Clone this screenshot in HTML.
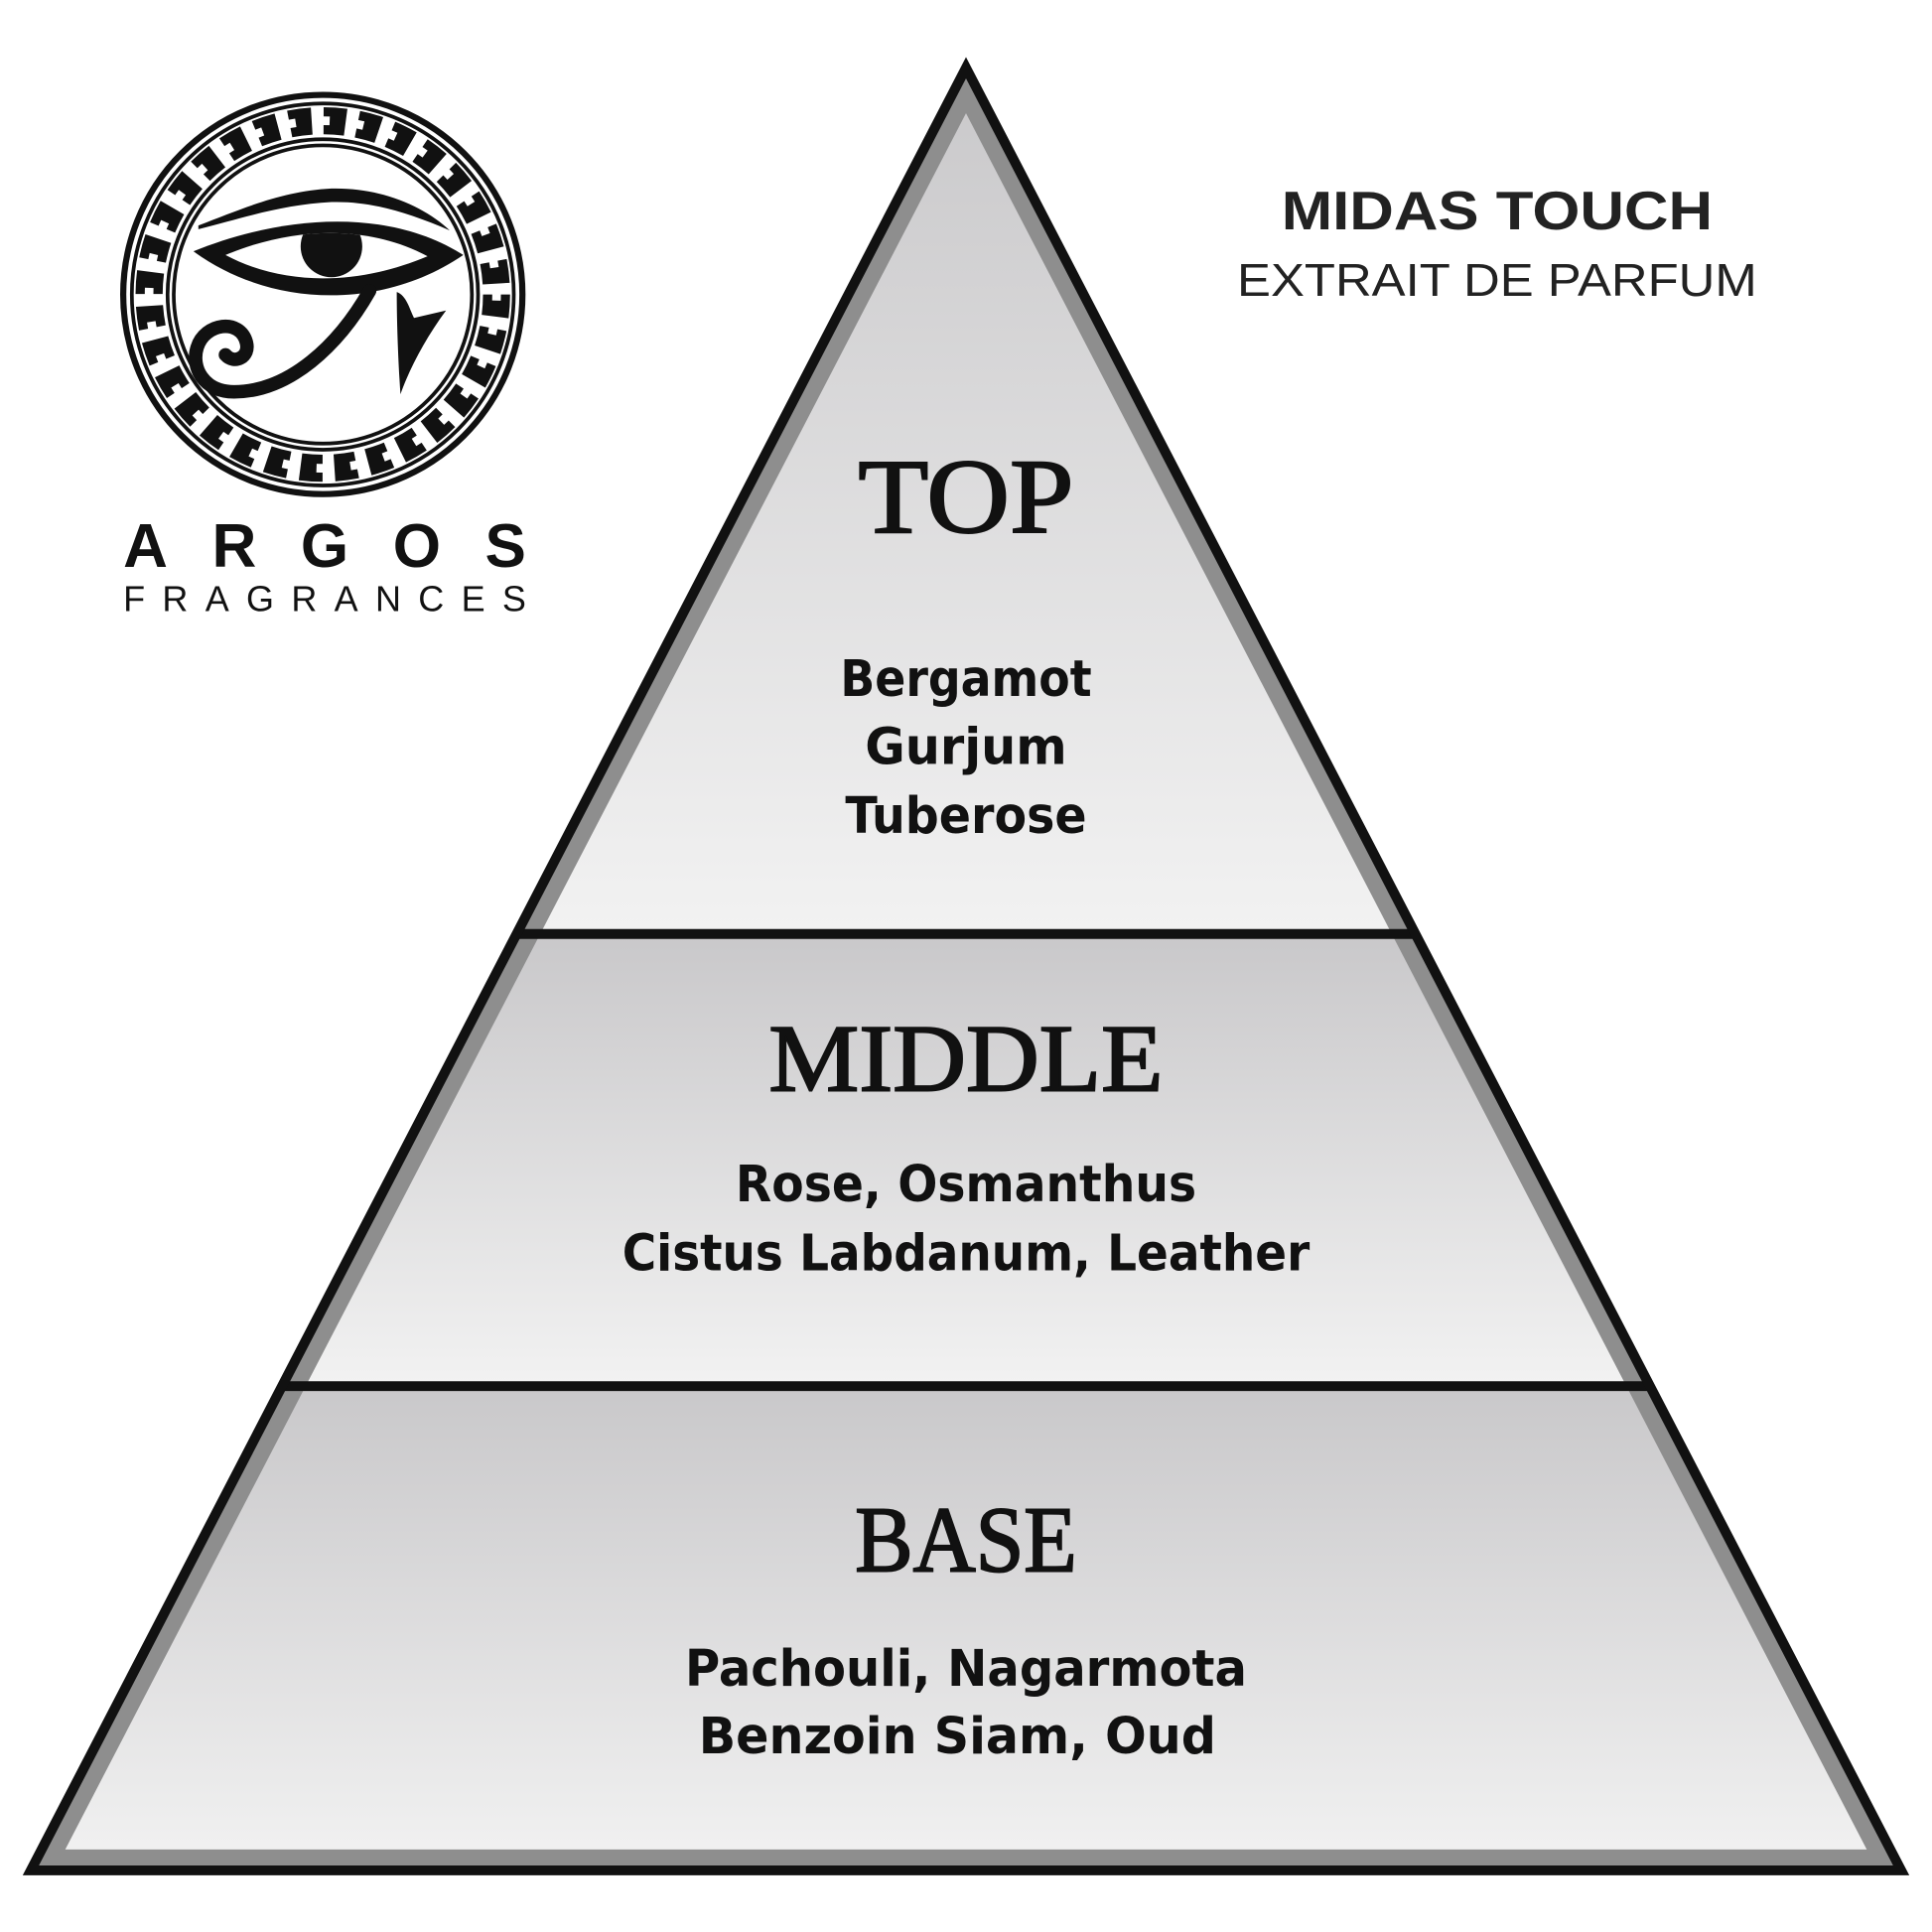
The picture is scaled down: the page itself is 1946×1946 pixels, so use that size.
<!DOCTYPE html>
<html><head><meta charset="utf-8"><style>
html,body{margin:0;padding:0;background:#fff;}
svg{display:block;}
</style></head><body>
<svg width="1946" height="1946" viewBox="0 0 1568 1568" xmlns="http://www.w3.org/2000/svg">
<defs>
<linearGradient id="g" x1="0" y1="0" x2="0" y2="1">
<stop offset="0" stop-color="#c9c8ca"/><stop offset="1" stop-color="#f2f2f2"/></linearGradient>
<clipPath id="tri"><polygon points="784,55 25,1518 1543,1518"/></clipPath>
<clipPath id="eyein"><path d="M183,207 C240,183 300,183 347,208 C290,232 230,232 183,207 Z"/></clipPath>
</defs>
<g clip-path="url(#tri)">
<rect x="0" y="55" width="1568" height="703" fill="url(#g)"/>
<rect x="0" y="758" width="1568" height="367" fill="url(#g)"/>
<rect x="0" y="1125" width="1568" height="393" fill="url(#g)"/>
<polygon points="784,55 25,1518 1543,1518" fill="none" stroke="#8e8e8e" stroke-width="34"/>
<line x1="0" y1="758" x2="1568" y2="758" stroke="#111" stroke-width="8"/>
<line x1="0" y1="1125" x2="1568" y2="1125" stroke="#111" stroke-width="8"/>
</g>
<polygon points="784,55 25,1518 1543,1518" fill="none" stroke="#111" stroke-width="8" stroke-linejoin="miter"/>

<g font-family="'Liberation Serif',serif" fill="#111" stroke="#111" stroke-width="1.6" text-anchor="middle">
<text x="784" y="432" font-size="86" textLength="175" lengthAdjust="spacingAndGlyphs">TOP</text>
<text x="784" y="885" font-size="78" textLength="320" lengthAdjust="spacingAndGlyphs">MIDDLE</text>
<text x="784" y="1275" font-size="76" textLength="180" lengthAdjust="spacingAndGlyphs">BASE</text>
</g>
<g font-family="'DejaVu Sans Condensed','Liberation Sans',sans-serif" fill="#111" text-anchor="middle" font-size="41" font-weight="bold">
<text x="784" y="565" textLength="204" lengthAdjust="spacingAndGlyphs">Bergamot</text>
<text x="784" y="620" textLength="164" lengthAdjust="spacingAndGlyphs">Gurjum</text>
<text x="784" y="676" textLength="196" lengthAdjust="spacingAndGlyphs">Tuberose</text>
<text x="784" y="975" textLength="374" lengthAdjust="spacingAndGlyphs">Rose, Osmanthus</text>
<text x="784" y="1031" textLength="558" lengthAdjust="spacingAndGlyphs">Cistus Labdanum, Leather</text>
<text x="784" y="1368" textLength="456" lengthAdjust="spacingAndGlyphs">Pachouli, Nagarmota</text>
<text x="777" y="1423" textLength="420" lengthAdjust="spacingAndGlyphs">Benzoin Siam, Oud</text>
</g>
<g font-family="'Liberation Sans',sans-serif" fill="#222" text-anchor="middle">
<text x="1215" y="186" font-size="44" font-weight="bold" textLength="350" lengthAdjust="spacingAndGlyphs">MIDAS TOUCH</text>
<text x="1215" y="240" font-size="37" textLength="422" lengthAdjust="spacingAndGlyphs">EXTRAIT DE PARFUM</text>
</g>

<!-- logo -->
<g fill="none" stroke="#111">
<circle cx="262" cy="239" r="162" stroke-width="5"/>
<circle cx="262" cy="239" r="155" stroke-width="3"/>
<circle cx="262" cy="239" r="141" stroke-width="22" stroke-dasharray="18 9.7"/>
<circle cx="262" cy="239" r="141" stroke="#fff" stroke-width="7" stroke-dasharray="9 18.7" stroke-dashoffset="4"/>
<circle cx="262" cy="239" r="126" stroke-width="3"/>
<circle cx="262" cy="239" r="121" stroke-width="3"/>
</g>
<g fill="#111">
<path d="M161,183 C200,168 230,155 269,153 C310,152 345,168 365,187 C330,172 300,163 269,164 C230,166 200,176 161,186 Z"/>
<path d="M157,204 C220,178 310,165 376,207 C310,252 220,250 157,204 Z"/>
<path d="M183,207 C240,183 300,183 347,208 C290,232 230,232 183,207 Z" fill="#fff"/>
<circle cx="269" cy="200" r="25" clip-path="url(#eyein)"/>
<path d="M300,236 C275,280 235,318 190,318 C165,318 155,298 160,282 C166,262 195,258 200,278 C203,290 190,296 183,288" fill="none" stroke="#111" stroke-width="11" stroke-linecap="round"/>
<path d="M322,237 C330,240 332,250 336,258 L362,252 C345,275 332,300 325,320 C323,290 322,260 322,237 Z"/>
</g>
<g font-family="'Liberation Sans',sans-serif" fill="#111">
<text x="100" y="460" font-size="50" font-weight="bold" textLength="327" lengthAdjust="spacing">ARGOS</text>
<text x="100" y="496" font-size="29" textLength="327" lengthAdjust="spacing">FRAGRANCES</text>
</g>
</svg>
</body></html>
